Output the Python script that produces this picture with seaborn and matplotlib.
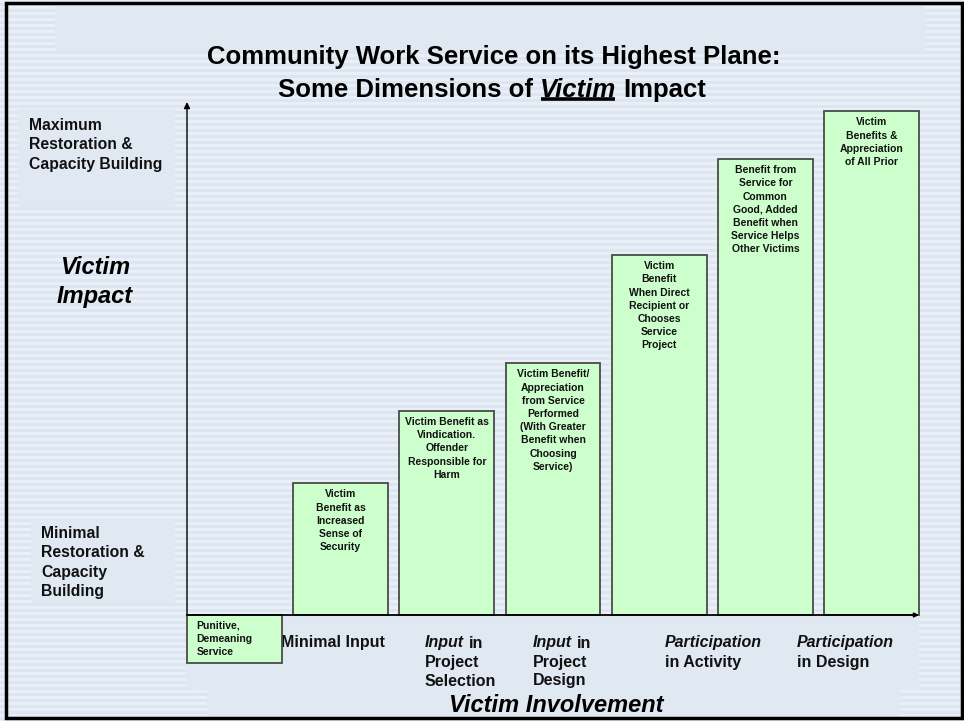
import numpy as np
import pandas as pd
import matplotlib
matplotlib.use("Agg")
import matplotlib.pyplot as plt
from matplotlib.patches import Rectangle
import seaborn as sns

# ---------------- data ----------------
stages = ["S0", "S1", "S2", "S3", "S4", "S5", "S6"]
impact = [-0.94, 2.57, 3.98, 4.91, 7.02, 8.89, 9.82]
bar_texts = [
    "Punitive,\nDemeaning\nService",
    "Victim\nBenefit as\nIncreased\nSense of\nSecurity",
    "Victim Benefit as\nVindication.\nOffender\nResponsible for\nHarm",
    "Victim Benefit/\nAppreciation\nfrom Service\nPerformed\n(With Greater\nBenefit when\nChoosing\nService)",
    "Victim\nBenefit\nWhen Direct\nRecipient or\nChooses\nService\nProject",
    "Benefit from\nService for\nCommon\nGood, Added\nBenefit when\nService Helps\nOther Victims",
    "Victim\nBenefits &\nAppreciation\nof All Prior",
]
# involvement labels: (italic lead word, rest of first line, following lines)
involvement = [
    ("", "Minimal Input", []),
    ("Input", "in", ["Project", "Selection"]),
    ("Input", "in", ["Project", "Design"]),
    ("Participation", "", ["in Activity"]),
    ("Participation", "", ["in Design"]),
]
title_line1 = "Community Work Service on its Highest Plane:"
title_line2 = ("Some Dimensions of", "Victim", "Impact")
y_top_label = "Maximum\nRestoration &\nCapacity Building"
y_bottom_label = "Minimal\nRestoration &\nCapacity\nBuilding"
y_title = "Victim\nImpact"
x_title = "Victim Involvement"

df = pd.DataFrame({"stage": stages, "impact": impact})

# ---------------- style ----------------
sns.set_style("white")
plt.rcParams["font.family"] = ["Liberation Sans", "DejaVu Sans"]
plt.rcParams["text.color"] = "black"

W, H = 964, 721
fig = plt.figure(figsize=(W / 100, H / 100), dpi=100)

# background (slide decoration)
bg = fig.add_axes([0, 0, 1, 1], zorder=0)
bg.set_xlim(0, W)
bg.set_ylim(H, 0)
bg.axis("off")
c_dark = np.array([0xdc, 0xe5, 0xf0]) / 255
c_light = np.array([0xe9, 0xef, 0xf6]) / 255
solid = "#e0e8f2"
rows = np.array([c_light if (r % 6) < 3 else c_dark for r in range(H)])
bg.imshow(rows[:, None, :], extent=[0, W, H, 0], aspect="auto",
          interpolation="nearest", zorder=0)
for (x0, y0, x1, y1) in [(55, 5, 925, 52), (19, 109, 175, 207), (31, 519, 175, 603),
                         (187, 617, 919, 690), (207, 690, 900, 717)]:
    bg.add_patch(Rectangle((x0, y0), x1 - x0, y1 - y0, color=solid, lw=0, zorder=1))
bg.add_patch(Rectangle((6, 3), 956, 715, fill=False, ec="black", lw=2.5, zorder=5))

# ---------------- main bar chart ----------------
ax = fig.add_axes([187 / W, (H - 615) / H, (919 - 187) / W, (615 - 102) / H], zorder=2)
ax.patch.set_alpha(0)
bw = 0.89
sns.barplot(data=df, x="stage", y="impact", ax=ax, color="#ccffcc", saturation=1,
            edgecolor="#4a4a4a", linewidth=1.3, width=bw, errorbar=None)
for p in ax.patches:
    p.set_clip_on(False)
ax.set_xlim(-bw / 2, len(stages) - 1 + bw / 2)
ax.set_ylim(0, 10)
ax.axis("off")

# axes arrows
ax.annotate("", xy=(0, 1), xytext=(0, 0), xycoords="axes fraction",
            arrowprops=dict(arrowstyle="-|>", color="black", lw=1.0,
                            mutation_scale=9, shrinkA=0, shrinkB=0))
ax.annotate("", xy=(1, 0), xytext=(0, 0), xycoords="axes fraction",
            arrowprops=dict(arrowstyle="-|>", color="black", lw=1.3,
                            mutation_scale=6, shrinkA=0, shrinkB=0))

# bar texts
LS = 1.4
for i, (v, txt) in enumerate(zip(impact, bar_texts)):
    if v >= 0:
        ax.annotate(txt, xy=(i, v), xytext=(0, -4.5), textcoords="offset points",
                    ha="center", va="top", fontsize=7.5, weight="bold",
                    linespacing=LS, color="#111111", annotation_clip=False)
    else:
        ax.annotate(txt, xy=(i - bw / 2, 0), xytext=(7, -4), textcoords="offset points",
                    ha="left", va="top", fontsize=7.5, weight="bold",
                    linespacing=LS, color="#111111", annotation_clip=False)

# ---------------- texts ----------------
bg.text(494, 57, title_line1, ha="center", va="center", fontsize=18.5,
        weight="bold", zorder=6)
tv = bg.text(578, 90, title_line2[1], ha="center", va="center", fontsize=18.5,
             weight="bold", style="italic", zorder=6)
bg.annotate(title_line2[0], xy=(0, 0.5), xycoords=tv, xytext=(-5.1, 0),
            textcoords="offset points", ha="right", va="center", fontsize=18.5,
            weight="bold", zorder=6)
bg.annotate(title_line2[2], xy=(1, 0.5), xycoords=tv, xytext=(5.1, 0),
            textcoords="offset points", ha="left", va="center", fontsize=18.5,
            weight="bold", zorder=6)

bg.text(29, 118, y_top_label, ha="left", va="top", fontsize=11.3, weight="bold",
        linespacing=1.37, color="#111111", zorder=6)
bg.text(41, 526, y_bottom_label, ha="left", va="top", fontsize=11.3, weight="bold",
        linespacing=1.37, color="#111111", zorder=6)
bg.text(95, 282, y_title, ha="center", va="center", fontsize=17, weight="bold",
        style="italic", linespacing=1.37, zorder=6)
bg.text(556, 706, x_title, ha="center", va="center", fontsize=17, weight="bold",
        style="italic", zorder=6)

label_x = [281, 425, 533, 665, 797]
for x0, (lead, rest, more) in zip(label_x, involvement):
    y0 = 643
    if lead:
        t = bg.text(x0, y0, lead, ha="left", va="center", fontsize=11.5,
                    weight="bold", style="italic", color="#111111", zorder=6)
        if rest:
            bg.annotate(rest, xy=(1, 0.5), xycoords=t, xytext=(3.2, 0),
                        textcoords="offset points", ha="left", va="center",
                        fontsize=11.5, weight="bold", color="#111111", zorder=6)
    else:
        bg.text(x0, y0, rest, ha="left", va="center", fontsize=11.5,
                weight="bold", color="#111111", zorder=6)
    for k, line in enumerate(more):
        bg.text(x0, y0 + 19 * (k + 1), line, ha="left", va="center", fontsize=11.5,
                weight="bold", color="#111111", zorder=6)

# underline "Victim" in title
fig.canvas.draw()
bb = tv.get_window_extent()
inv = bg.transData.inverted()
(xa, ya), (xb, yb) = inv.transform([(bb.x0, bb.y0), (bb.x1, bb.y0)])
bg.plot([xa + 1, xb - 1], [ya - 3, ya - 3], color="black", lw=2.6, zorder=6,
        solid_capstyle="butt")

fig.savefig("out.png", dpi=100)
